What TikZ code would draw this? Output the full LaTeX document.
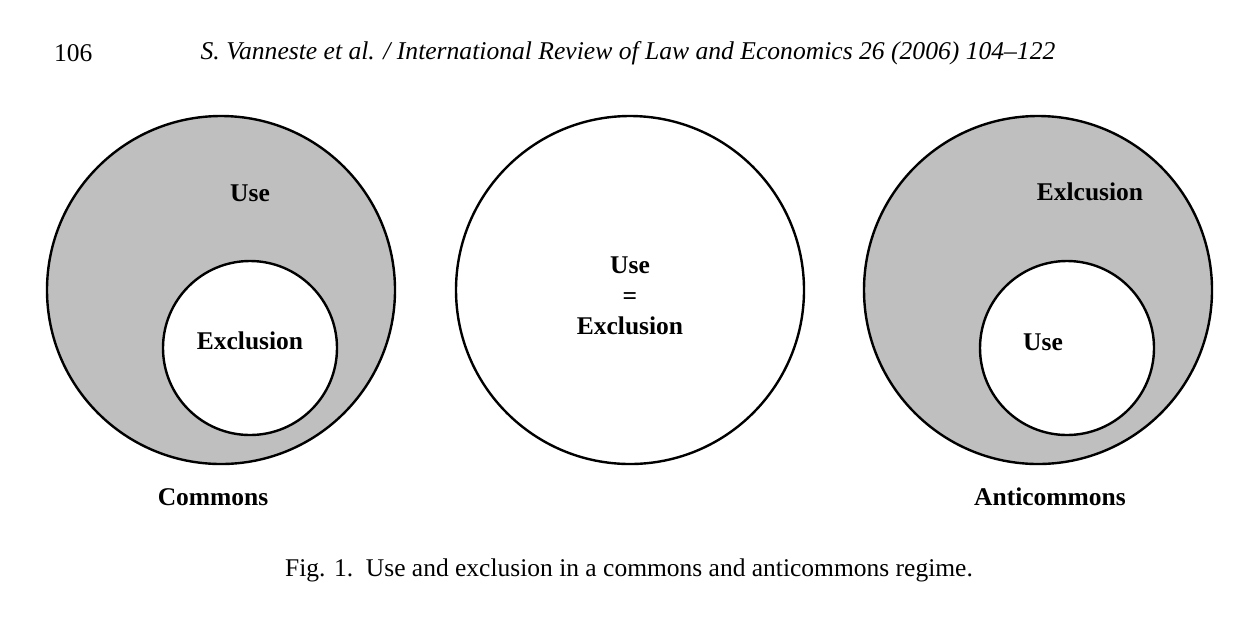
\documentclass[tikz,border=0pt]{standalone}
\usepackage{fontspec}
\setmainfont{Liberation Serif}
\usetikzlibrary{positioning}

\begin{document}
\begin{tikzpicture}[x=1pt,y=-1pt,
  big/.style={circle,draw=black,line width=2.4pt,minimum size=348pt,inner sep=0pt},
  small/.style={circle,draw=black,line width=2.4pt,fill=white,minimum size=174pt,inner sep=0pt},
  lbl/.style={font=\fontsize{25.5}{30.5}\selectfont\bfseries,inner sep=0pt},
  txt/.style={font=\fontsize{25.5}{30}\selectfont,inner sep=0pt}]
  \useasboundingbox (0,0) rectangle (1257,625);
  % header line
  \node[txt,anchor=west] (page) at (54,53) {106};
  \node[txt,font=\fontsize{25.6}{30}\selectfont\itshape] (head) at (628,53) {S. Vanneste et al. / International Review of Law and Economics 26 (2006) 104--122};
  % commons
  \node[big,fill=gray!50] (cm) at (221,290) {};
  \node[small] (cmin) at (250,348) {};
  \node[lbl] (cmuse) at (250,193) {Use};
  \node[lbl] at ([yshift=7pt]cmin) {Exclusion};
  \node[lbl] (cmname) at (213,497) {Commons};
  % middle
  \node[big] (mid) at (630,290) {};
  \node[lbl,align=center] at ([yshift=-6pt]mid.center) {Use\\=\\Exclusion};
  % anticommons
  \node[big,fill=gray!50] (ac) at (1038,290) {};
  \node[small] (acin) at (1067,348) {};
  \node[lbl] (acexc) at (1090,192) {Exlcusion};
  \node[lbl] at ([xshift=-24pt,yshift=6pt]acin) {Use};
  \node[lbl] (acname) at (1050,497) {Anticommons};
  % caption
  \node[txt] (caption) at (629,570) {Fig. 1.\ \ Use and exclusion in a commons and anticommons regime.};
\end{tikzpicture}
\end{document}
